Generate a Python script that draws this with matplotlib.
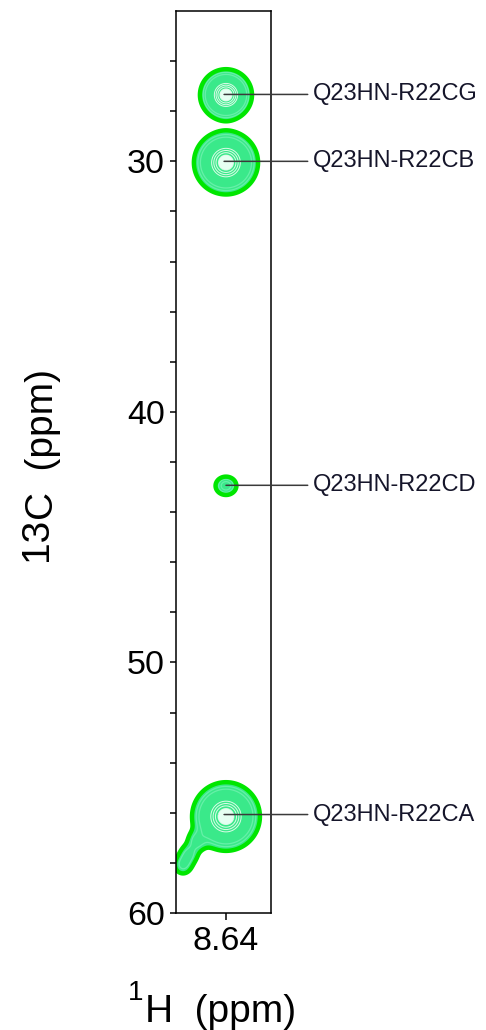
import numpy as np
import matplotlib
matplotlib.use("Agg")
import matplotlib.pyplot as plt
from matplotlib.ticker import FixedLocator

plt.rcParams['font.family'] = ['Liberation Sans', 'DejaVu Sans']

# ---- data ----
peak_labels = ['Q23HN-R22CG', 'Q23HN-R22CB', 'Q23HN-R22CD', 'Q23HN-R22CA']
peak_h = [8.642, 8.642, 8.640, 8.642]        # 1H ppm of assignment crosshair
peak_c = [27.33, 30.00, 42.93, 56.07]        # 13C ppm of assignment crosshair

# contour components (spectral peaks): centre, amplitude, linewidths (ppm)
comp_h = [8.640, 8.640, 8.640, 8.640, 8.6706, 8.6790, 8.6853]
comp_c = [27.35, 30.05, 42.95, 56.15, 57.12, 57.65, 58.09]
comp_amp = [20.0, 20.0, 4.0, 20.0, 2.2, 2.2, 2.2]
comp_wh = [0.0112, 0.0138, 0.0066, 0.0146, 0.0065, 0.0065, 0.0065]
comp_wc = [0.42, 0.52, 0.22, 0.56, 0.26, 0.26, 0.26]

y_major = [30, 40, 50, 60]
y_minor = [26, 28, 32, 34, 36, 38, 42, 44, 46, 48, 52, 54, 56, 58]
x_ticks = [8.64]
x_ticklabels = ['8.64']

# ---- figure ----
W, H = 486, 1030
fig = plt.figure(figsize=(W / 100, H / 100), dpi=100)
ax = fig.add_axes([176 / W, 1 - 913 / H, 95 / W, 902 / H])

hh = np.linspace(8.58, 8.71, 320)
cc = np.linspace(23.5, 60.5, 1500)
HH, CC = np.meshgrid(hh, cc)
Z = np.zeros_like(HH)
for h0, c0, a, wh, wc in zip(comp_h, comp_c, comp_amp, comp_wh, comp_wc):
    Z += a * np.exp(-0.5 * ((HH - h0) / wh) ** 2 - 0.5 * ((CC - c0) / wc) ** 2)

ax.contourf(HH, CC, Z, levels=[1.0, 17.5, 1e6], colors=['#3ae98a', '#e6fff2'])
ax.contour(HH, CC, Z, levels=[2.0, 3.0], colors=['#66f0a8'], linewidths=0.9)
ax.contour(HH, CC, Z, levels=[11, 13, 15, 17], colors=['#dcfbe8'], linewidths=0.7)
ax.contour(HH, CC, Z, levels=[1.0], colors=['#00e600'], linewidths=3.2)

for lab, h0, c0 in zip(peak_labels, peak_h, peak_c):
    ax.annotate(lab, xy=(h0, c0), xytext=(1.445, c0),
                textcoords=('axes fraction', 'data'), xycoords='data',
                ha='left', va='center', fontsize=17, color='#15152a',
                annotation_clip=False,
                arrowprops=dict(arrowstyle='-', color='#3a3a3a', lw=1.1,
                                shrinkA=2, shrinkB=0))

ax.set_xlim(8.6926, 8.5926)
ax.set_ylim(60, 24)
ax.set_yticks(y_major)
ax.yaxis.set_minor_locator(FixedLocator(y_minor))
ax.set_xticks(x_ticks)
ax.set_xticklabels(x_ticklabels)
ax.tick_params(axis='both', which='both', direction='out', width=1.1,
               top=False, right=False, labelsize=24.5, colors='black', pad=3.5)
ax.tick_params(axis='y', which='major', length=4.5)
ax.tick_params(axis='y', which='minor', length=4.3)
ax.tick_params(axis='x', which='major', length=5, pad=4.5)
for s in ax.spines.values():
    s.set_linewidth(1.1)

# axis labels composed from pieces (isotope numbers raised)
def px(x, y):
    return x / W, 1 - y / H

fig.text(*px(143, 1000), '1', fontsize=20, ha='right', va='baseline')
fig.text(*px(145, 1022), 'H  (ppm)', fontsize=28, ha='left', va='baseline')
fig.text(*px(47, 561), '13', fontsize=28, rotation=90, rotation_mode='anchor',
         ha='left', va='baseline')
fig.text(*px(53, 520), 'C  (ppm)', fontsize=28, rotation=90, rotation_mode='anchor',
         ha='left', va='baseline')

fig.savefig('out.png', dpi=100)
